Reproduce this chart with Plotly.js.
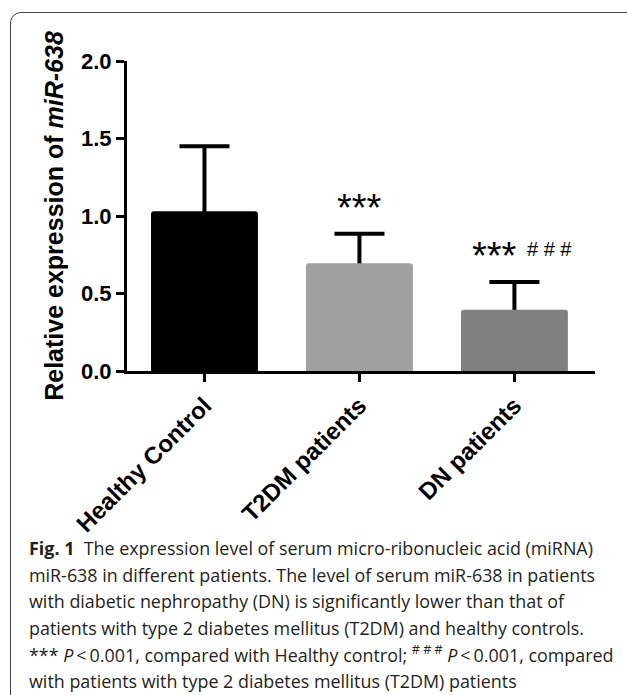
<!DOCTYPE html>
<html>
<head>
<meta charset="utf-8">
<script src="https://cdn.plot.ly/plotly-3.0.1.min.js"></script>
<style>
  html, body { margin: 0; padding: 0; background: #fff; overflow: hidden; }
  #wrap { position: relative; width: 627px; height: 695px; overflow: hidden; }
  #frame { position: absolute; left: 10px; top: 12px; width: 700px; height: 800px;
           border: 1px solid #444; border-radius: 11px; pointer-events: none; }
</style>
</head>
<body>
<div id="wrap">
  <div id="chart"></div>
  <div id="frame"></div>
</div>
<script>
// ---- data ----
const categories = ["Healthy Control", "T2DM patients", "DN patients"];
const means = [1.03, 0.695, 0.395];
const sdUpper = [0.42, 0.19, 0.18];
const barColors = ["#000000", "#a0a0a0", "#808080"];
const yTickVals = [0, 0.5, 1.0, 1.5, 2.0];
const sigStars = ["", "***", "***"];
const sigHash = ["", "", "# # #"];
const captionLines = [
  "<b>Fig. 1</b>  The expression level of serum micro-ribonucleic acid (miRNA)",
  "miR-638 in different patients. The level of serum miR-638 in patients",
  "with diabetic nephropathy (DN) is significantly lower than that of",
  "patients with type 2 diabetes mellitus (T2DM) and healthy controls.",
  "*** <i>P</i>\u2009<\u20090.001, compared with Healthy control; <sup># # #</sup> <i>P</i>\u2009<\u20090.001, compared",
  "with patients with type 2 diabetes mellitus (T2DM) patients"
];

// ---- layout geometry (pixels) ----
const W = 627, H = 695;
const mL = 127, mR = 32, mT = 61, plotBottom = 371;
const mB = H - plotBottom;
const plotW = W - mL - mR, plotH = plotBottom - mT;
const pxX = px => (px - mL) / plotW;
const pxY = py => (plotBottom - py) / plotH;

// error bars drawn first (under the bars) so only the upper part shows
const errTrace = {
  type: "bar",
  x: categories,
  y: means,
  width: 0.69,
  marker: { color: "rgba(0,0,0,0)", line: { width: 0 } },
  error_y: {
    type: "data", symmetric: false, array: sdUpper,
    arrayminus: means.map(() => 0.05),
    thickness: 4, width: 25, color: "#000"
  },
  hoverinfo: "none"
};
const barTrace = {
  type: "bar",
  x: categories,
  y: means,
  width: 0.69,
  marker: { color: barColors, line: { width: 0 }, cornerradius: 3 },
  hoverinfo: "none"
};

const annotations = [];
categories.forEach((c, i) => {
  if (sigStars[i]) {
    annotations.push({
      x: c, xref: "x", y: means[i] + sdUpper[i], yref: "y",
      text: sigStars[i], showarrow: false, yanchor: "bottom",
      xshift: sigHash[i] ? -20 : 0, yshift: 3,
      font: { family: "Arial", size: 38, color: "#000" }
    });
  }
  if (sigHash[i]) {
    annotations.push({
      x: c, xref: "x", y: means[i] + sdUpper[i], yref: "y",
      text: sigHash[i], showarrow: false, yanchor: "bottom",
      xshift: 35, yshift: 20,
      font: { family: "Arial", size: 20, color: "#000" }
    });
  }
});

const captionCenters = [548, 574.5, 601, 627.5, 654, 680.5];
captionLines.forEach((t, i) => {
  annotations.push({
    x: pxX(27), xref: "paper", y: pxY(captionCenters[i]), yref: "paper",
    xanchor: "left", yanchor: "middle", align: "left", showarrow: false,
    text: t,
    font: { family: "Open Sans", size: 17.9, color: "#231f20" }
  });
});

const layout = {
  width: W, height: H,
  margin: { l: mL, r: mR, t: mT, b: mB, pad: 0 },
  paper_bgcolor: "#fff", plot_bgcolor: "#fff",
  showlegend: false,
  barmode: "overlay",
  xaxis: {
    type: "category",
    range: [-0.5, 2.52],
    showline: true, linewidth: 3, linecolor: "#000",
    ticks: "outside", ticklen: 8, tickwidth: 3, tickcolor: "#000",
    tickangle: -45,
    tickfont: { family: "Arial", size: 24, color: "#000", weight: "bold" },
    showgrid: false, zeroline: false, automargin: false
  },
  yaxis: {
    range: [0, 2],
    tickvals: yTickVals,
    ticktext: yTickVals.map(v => v.toFixed(1)),
    showline: true, linewidth: 3, linecolor: "#000",
    ticks: "outside", ticklen: 8, tickwidth: 3, tickcolor: "#000",
    tickfont: { family: "Arial", size: 22, color: "#000", weight: "bold" },
    showgrid: false, zeroline: false, automargin: false,
    title: {
      text: "Relative expression of <i>miR-638</i>",
      font: { family: "Arial", size: 25, color: "#000", weight: "bold" },
      standoff: 11
    }
  },
  annotations: annotations
};

Plotly.newPlot("chart", [errTrace, barTrace], layout, { displayModeBar: false, staticPlot: true });
</script>
</body>
</html>
